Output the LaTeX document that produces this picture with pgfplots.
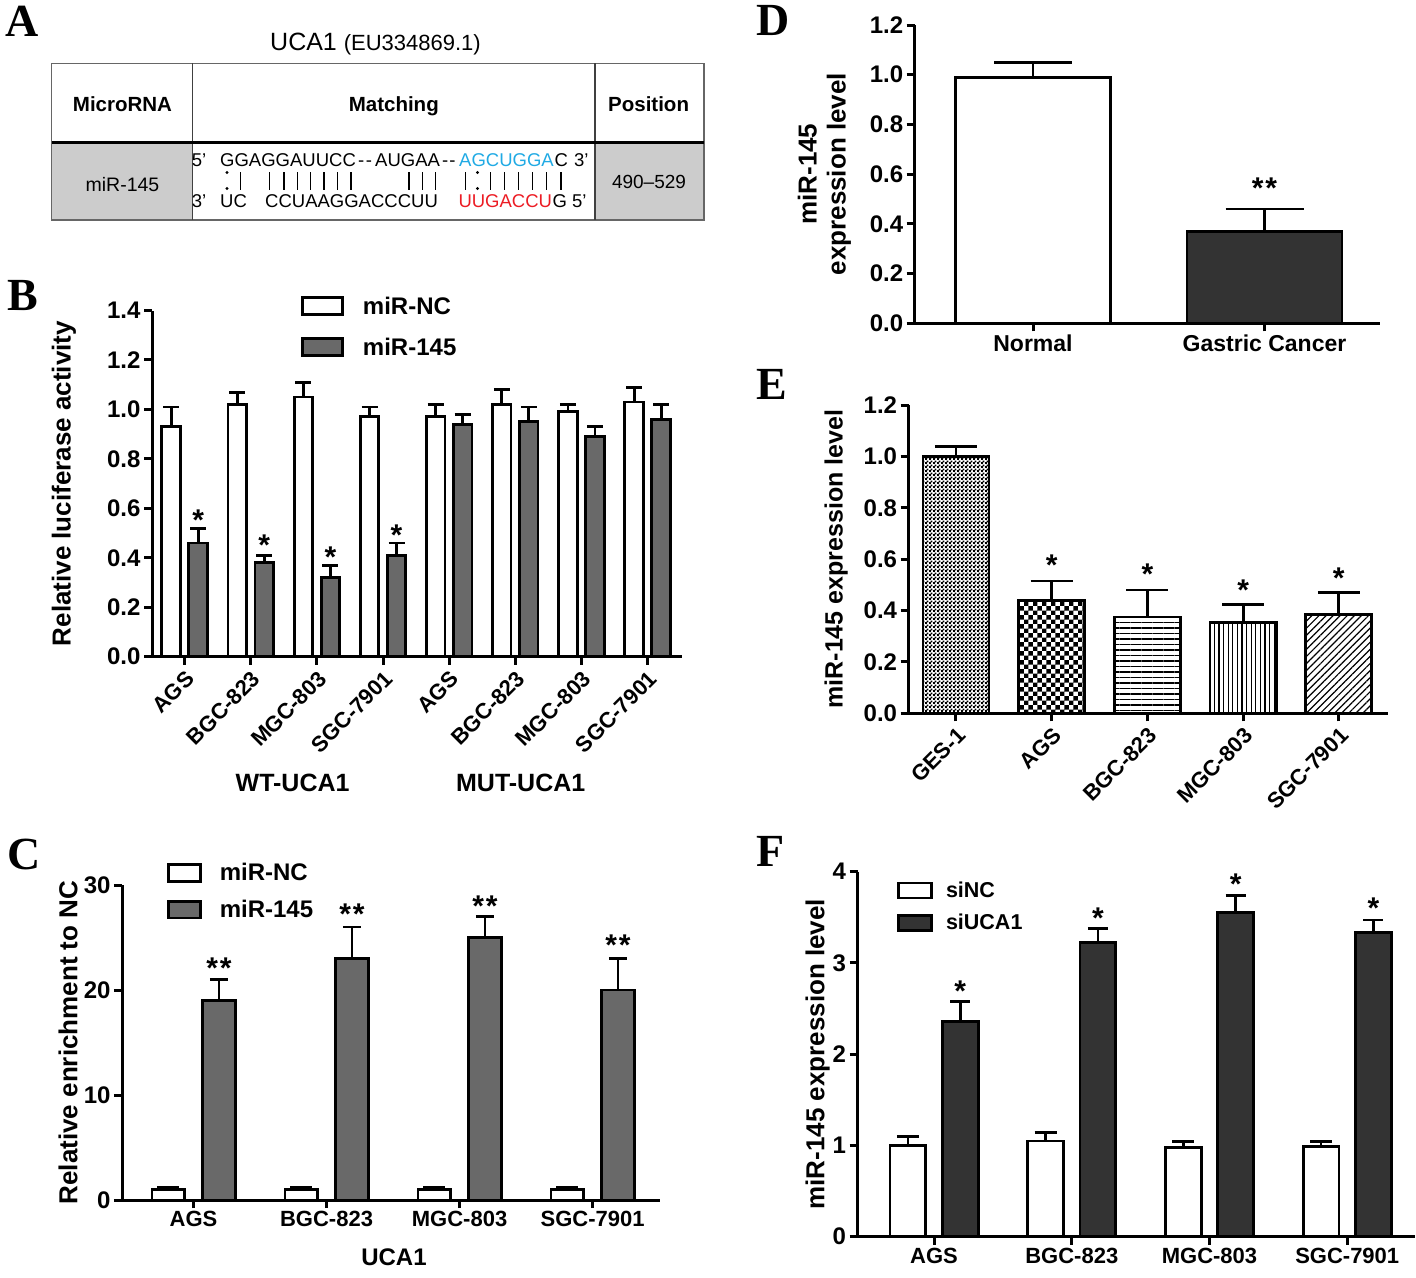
\documentclass[border=0pt]{standalone}
\usepackage{fontspec}
\setmainfont{Liberation Sans}
\newfontfamily\letterfont{Liberation Serif}
\usepackage{pgfplots}
\pgfplotsset{compat=1.18}
\usetikzlibrary{patterns,patterns.meta}

\newcommand{\fsz}[2]{\fontsize{#1}{#2}\selectfont}

\definecolor{midgray}{RGB}{105,105,105}
\definecolor{darkgray}{RGB}{51,51,51}
\definecolor{cellgray}{RGB}{204,204,204}
\definecolor{seqblue}{RGB}{32,170,228}
\definecolor{seqred}{RGB}{236,28,36}

% checkerboards for panel E
\pgfdeclarepatternformonly{bigcheck}{\pgfqpoint{0pt}{0pt}}{\pgfqpoint{9.4pt}{9.4pt}}{\pgfqpoint{9.4pt}{9.4pt}}{%
  \pgfpathrectangle{\pgfqpoint{0pt}{0pt}}{\pgfqpoint{4.7pt}{4.7pt}}%
  \pgfpathrectangle{\pgfqpoint{4.7pt}{4.7pt}}{\pgfqpoint{4.7pt}{4.7pt}}%
  \pgfusepath{fill}}
\pgfdeclarepatternformonly{finecheck}{\pgfqpoint{0pt}{0pt}}{\pgfqpoint{3.6pt}{3.6pt}}{\pgfqpoint{3.6pt}{3.6pt}}{%
  \pgfpathrectangle{\pgfqpoint{0pt}{0pt}}{\pgfqpoint{2pt}{2pt}}%
  \pgfpathrectangle{\pgfqpoint{1.8pt}{1.8pt}}{\pgfqpoint{2pt}{2pt}}%
  \pgfusepath{fill}}

\pgfplotsset{
  gp/.style={
    scale only axis, clip=false, anchor=south west,
    axis lines=left, axis line style={-, line width=3pt},
    tick align=outside, major tick length=8pt,
    tick style={line width=3pt, black},
    ymin=0,
    /pgf/number format/assume math mode=true,
    ticklabel style={font=\bfseries\fsz{22}{26}},
    yticklabel style={font=\bfseries\fsz{24}{28}},
    every axis y label/.style={rotate=90, anchor=center, font=\bfseries\fsz{26}{30}},
    legend cell align=left,
    legend style={draw=none, fill=none, inner sep=0pt, anchor=north west, nodes={inner sep=1pt}},
  },
  onedec/.style={yticklabel style={/pgf/number format/fixed, /pgf/number format/fixed zerofill, /pgf/number format/precision=1}},
  bars/.style={ybar, bar shift=0, draw=black, line width=2.8pt, bar width=#1},
  errs/.style={/pgfplots/error bars/y dir=plus, /pgfplots/error bars/y explicit,
    /pgfplots/error bars/error bar style={line width=2.8pt, black},
    /pgfplots/error bars/error mark options={rotate=90, line width=2.8pt, black, mark size=#1}},
  legB/.style={legend image code/.code={\draw[##1] (0pt,-8.5pt) rectangle (40pt,8.5pt);}},
  legC/.style={legend image code/.code={\draw[##1] (0pt,-8.3pt) rectangle (32.3pt,8.3pt);}},
  legF/.style={legend image code/.code={\draw[##1] (0pt,-7.5pt) rectangle (33pt,7.5pt);}},
}
\tikzset{
  star/.style={font=\bfseries\fsz{30}{30}, inner sep=0pt, yshift=-6.5pt},
  panel/.style={anchor=base west, inner sep=0pt, font=\letterfont\bfseries\fsz{46}{46}},
}

\begin{document}
\begin{tikzpicture}
\useasboundingbox (0pt,0pt) rectangle (1416pt,-1277pt);

% ---------------- panel A : the table, and the panel letters
\begin{scope}[x=1pt,y=-1pt]
  \node[panel] at (5,36.7) {A};
  \node[panel] at (7,310) {B};
  \node[panel] at (7,869) {C};
  \node[panel] at (756,35) {D};
  \node[panel] at (756,399) {E};
  \node[panel] at (756,866) {F};

  \node[anchor=base, inner sep=0pt] at (375.5,50) {\fsz{25}{28}UCA1 {\fsz{22}{26}(EU334869.1)}};

  \fill[cellgray] (51.7,142.3) rectangle (192.3,220);
  \fill[cellgray] (595,142.3) rectangle (704,220);
  \draw[black!60, line width=1.5pt] (51.7,63.3) rectangle (704,220);
  \draw[black!75, line width=1.5pt] (192.3,63.3) -- (192.3,220) (595,63.3) -- (595,220);
  \draw[black, line width=3.5pt] (51.7,142.3) -- (704,142.3);

  \node[anchor=base, inner sep=0pt, font=\bfseries\fsz{20.5}{24}] at (122.5,111.7) {MicroRNA};
  \node[anchor=base, inner sep=0pt, font=\bfseries\fsz{20.5}{24}] at (393.8,111.7) {Matching};
  \node[anchor=base, inner sep=0pt, font=\bfseries\fsz{20.5}{24}] at (648.6,111.7) {Position};
  \node[anchor=base, inner sep=0pt, font=\fsz{19.5}{22}] at (122.5,191.7) {miR-145};
  \node[anchor=base, inner sep=0pt, font=\fsz{19}{22}] at (649,188.3) {490--529};

  % target (top) and miRNA (bottom) strands
  \begin{scope}[every node/.style={anchor=base west, inner sep=0pt, font=\fsz{18.5}{22}}]
    \node at (191.7,166.7) {5'};
    \node at (220,166.7) {GGAGGAUUCC};
    \node at (358,166.7) {-\hspace{1.5pt}-};
    \node at (375,166.7) {AUGAA};
    \node at (442,166.7) {-\hspace{1pt}-};
    \node[text=seqblue] at (459,166.7) {AGCUGGA};
    \node at (554.5,166.7) {C};
    \node at (574,166.7) {3'};
    \node at (191.7,207.5) {3'};
    \node at (220,207.5) {UC};
    \node at (265,207.5) {CCUAAGGACCCUU};
    \node[text=seqred] at (458.3,207.5) {UUGACCU};
    \node at (552.5,207.5) {G};
    \node at (572,207.5) {5'};
  \end{scope}
  \foreach \x in {240.5,269.5,284,297.5,310.5,324,337.5,351,409,422.5,435.5,465.5,490.5,504.5,518.5,532.5,546.5,561}
    \draw[line width=1.8pt] (\x,172) -- (\x,189.5);
  \foreach \x in {227,477.5} {
    \fill (\x,172.5) circle (1.6pt);
    \fill (\x,188.5) circle (1.6pt);
  }

  \node[font=\bfseries\fsz{25}{28}] at (292.6,783) {WT-UCA1};
  \node[font=\bfseries\fsz{25}{28}] at (520.7,783) {MUT-UCA1};
  \node[font=\bfseries\fsz{24}{28}] at (394,1257) {UCA1};
\end{scope}

% ---------------- panel B
\begin{axis}[gp, onedec, at={(152pt,-656.7pt)}, width=530pt, height=346.2pt,
  xmin=-0.493, xmax=7.52, ymax=1.4,
  ytick={0,0.2,0.4,0.6,0.8,1.0,1.2,1.4},
  xtick={0,1,2,3,4,5,6,7},
  xticklabels={AGS,BGC-823,MGC-803,SGC-7901,AGS,BGC-823,MGC-803,SGC-7901},
  xticklabel style={rotate=45, anchor=north east},
  ylabel={Relative luciferase activity},
  ylabel style={at={(axis description cs:-0.166,0.5)}},
  legend style={at={(axis description cs:0.2811,1.0428)}, font=\bfseries\fsz{24}{28}, row sep=20pt, column sep=18pt},
]
% miR-NC, left bar of each pair
\addplot[bars=0.28, fill=white, errs=8pt, legB] coordinates {
  (-0.204,0.93) +- (0,0.08) (0.796,1.02) +- (0,0.05) (1.796,1.05) +- (0,0.06) (2.796,0.97) +- (0,0.04)
  (3.796,0.97) +- (0,0.05) (4.796,1.02) +- (0,0.06) (5.796,0.99) +- (0,0.03) (6.796,1.03) +- (0,0.06)};
\addlegendentry{miR-NC}
% miR-145, right bar of each pair
\addplot[bars=0.28, fill=midgray, errs=8pt, legB] coordinates {
  (0.204,0.46) +- (0,0.06) (1.204,0.38) +- (0,0.03) (2.204,0.32) +- (0,0.05) (3.204,0.41) +- (0,0.05)
  (4.204,0.94) +- (0,0.04) (5.204,0.95) +- (0,0.06) (6.204,0.89) +- (0,0.04) (7.204,0.96) +- (0,0.06)};
\addlegendentry{miR-145}
\node[star] at (axis cs:0.204,0.58) {*};
\node[star] at (axis cs:1.204,0.477) {*};
\node[star] at (axis cs:2.204,0.43) {*};
\node[star] at (axis cs:3.204,0.517) {*};
\end{axis}

% ---------------- panel C
\begin{axis}[gp, at={(122pt,-1200pt)}, width=538pt, height=315pt,
  xmin=-0.538, xmax=3.507, ymax=30,
  ytick={0,10,20,30},
  xtick={0,1,2,3},
  xticklabels={AGS,BGC-823,MGC-803,SGC-7901},
  ylabel={Relative enrichment to NC},
  ylabel style={at={(axis description cs:-0.100,0.5)}},
  legend style={at={(axis description cs:0.0836,1.072)}, font=\bfseries\fsz{24}{28}, row sep=15.8pt, column sep=16.5pt},
]
\addplot[bars=0.243, fill=white, errs=11pt, legC] coordinates {
  (-0.191,1.0) +- (0,0.2) (0.809,1.0) +- (0,0.2) (1.809,1.0) +- (0,0.2) (2.809,1.0) +- (0,0.2)};
\addlegendentry{miR-NC}
\addplot[bars=0.243, fill=midgray, errs=9pt, legC] coordinates {
  (0.191,19) +- (0,2) (1.191,23) +- (0,3) (2.191,25) +- (0,2) (3.191,20) +- (0,3)};
\addlegendentry{miR-145}
\node[star] at (axis cs:0.191,22.7) {*\hspace{2pt}*};
\node[star] at (axis cs:1.191,27.8) {*\hspace{2pt}*};
\node[star] at (axis cs:2.191,28.6) {*\hspace{2pt}*};
\node[star] at (axis cs:3.191,24.85) {*\hspace{2pt}*};
\end{axis}

% ---------------- panel D
\begin{axis}[gp, onedec, at={(914.7pt,-323.3pt)}, width=465.3pt, height=298.3pt,
  xmin=-0.511, xmax=1.499, ymax=1.2,
  ytick={0,0.2,0.4,0.6,0.8,1.0,1.2},
  xtick={0,1},
  xticklabels={Normal,Gastric Cancer},
  xticklabel style={font=\bfseries\fsz{23}{27}},
  ylabel={miR-145\\expression level},
  ylabel style={at={(axis description cs:-0.194,0.5)}, align=center, font=\bfseries\fsz{26}{29}},
]
\addplot[bars=0.67, fill=white, errs=39pt] coordinates {(0,0.99) +- (0,0.06)};
\addplot[bars=0.67, fill=darkgray, errs=39pt] coordinates {(1,0.37) +- (0,0.09)};
\node[star] at (axis cs:1,0.57) {*\hspace{2pt}*};
\end{axis}

% ---------------- panel E
\begin{axis}[gp, onedec, at={(908.6pt,-713.3pt)}, width=479.4pt, height=308.3pt,
  xmin=-0.495, xmax=4.514, ymax=1.2,
  ytick={0,0.2,0.4,0.6,0.8,1.0,1.2},
  xtick={0,1,2,3,4},
  xticklabels={GES-1,AGS,BGC-823,MGC-803,SGC-7901},
  xticklabel style={rotate=45, anchor=north east},
  ylabel={miR-145 expression level},
  ylabel style={at={(axis description cs:-0.151,0.5)}, font=\bfseries\fsz{25}{29}},
]
\addplot[bars=0.69, pattern=finecheck, errs=21pt] coordinates {(0,1.0) +- (0,0.04)};
\addplot[bars=0.69, pattern=bigcheck, errs=21pt] coordinates {(1,0.44) +- (0,0.075)};
\addplot[bars=0.69, pattern={Lines[angle=0,distance=5.5pt,line width=1.2pt]}, errs=21pt] coordinates {(2,0.375) +- (0,0.105)};
\addplot[bars=0.69, pattern={Lines[angle=90,distance=4.6pt,line width=1.2pt]}, errs=21pt] coordinates {(3,0.355) +- (0,0.07)};
\addplot[bars=0.69, pattern={Lines[angle=45,distance=5pt,line width=1.2pt]}, errs=21pt] coordinates {(4,0.385) +- (0,0.085)};
\node[star] at (axis cs:1,0.603) {*};
\node[star] at (axis cs:2,0.565) {*};
\node[star] at (axis cs:3,0.506) {*};
\node[star] at (axis cs:4,0.552) {*};
\end{axis}

% ---------------- panel F
\begin{axis}[gp, at={(857.5pt,-1236.7pt)}, width=557.2pt, height=365pt,
  xmin=-0.556, xmax=3.49, ymax=4,
  ytick={0,1,2,3,4},
  xtick={0,1,2,3},
  xticklabels={AGS,BGC-823,MGC-803,SGC-7901},
  ylabel={miR-145 expression level},
  ylabel style={at={(axis description cs:-0.0716,0.5)}},
  legend style={at={(axis description cs:0.0709,0.975)}, font=\bfseries\fsz{21.5}{25}, row sep=13.1pt, column sep=12pt},
]
\addplot[bars=0.26, fill=white, errs=11pt, legF] coordinates {
  (-0.19,1.0) +- (0,0.1) (0.81,1.05) +- (0,0.09) (1.81,0.98) +- (0,0.06) (2.81,0.99) +- (0,0.05)};
\addlegendentry{siNC}
\addplot[bars=0.26, fill=darkgray, errs=10pt, legF] coordinates {
  (0.19,2.36) +- (0,0.22) (1.19,3.22) +- (0,0.16) (2.19,3.55) +- (0,0.19) (3.19,3.33) +- (0,0.14)};
\addlegendentry{siUCA1}
\node[star] at (axis cs:0.19,2.76) {*};
\node[star] at (axis cs:1.19,3.56) {*};
\node[star] at (axis cs:2.19,3.94) {*};
\node[star] at (axis cs:3.19,3.67) {*};
\end{axis}

\end{tikzpicture}
\end{document}
